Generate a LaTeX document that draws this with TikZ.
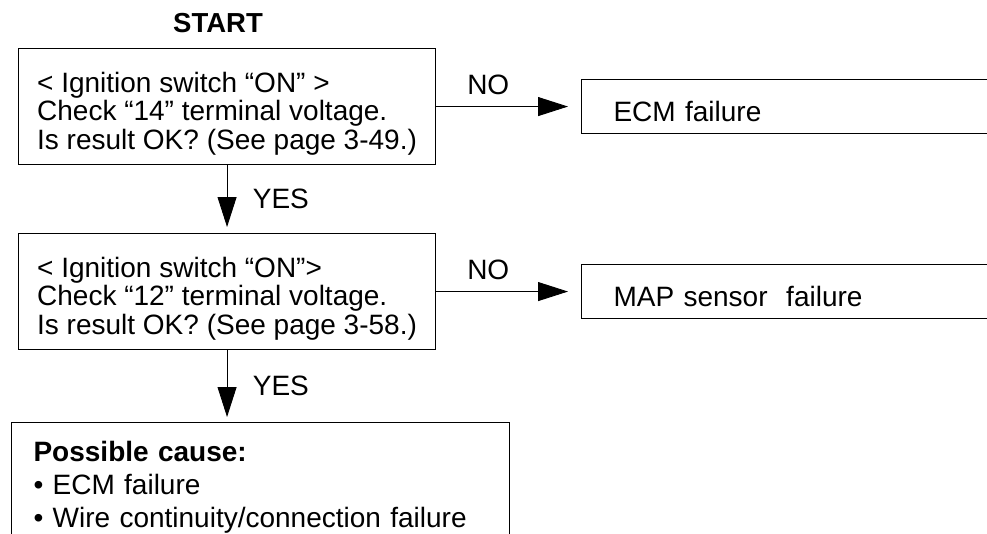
\documentclass[tikz,border=0pt]{standalone}
\usepackage{fontspec}
\setmainfont{Liberation Sans}
\usetikzlibrary{arrows.meta}
\newcommand{\topstrut}{\rule{0pt}{34pt}}

\begin{document}
\begin{tikzpicture}[x=1pt, y=-1pt,
    every node/.style={font=\fontsize{28}{28.5}\selectfont},
    checkbox/.style={draw, line width=1.1pt, align=left, minimum width=417pt, minimum height=116pt, inner ysep=9.5pt, anchor=north west},
    endbox/.style={draw, line width=1.1pt, align=left, text width=355pt, inner xsep=32pt, minimum height=54pt, text height=30pt, text depth=0pt, anchor=north west},
    flowarrow/.style={line width=0.9pt, -{Triangle[length=30pt, width=19pt]}}]
  \useasboundingbox (0,0) rectangle (987,533);
  \node[font=\bfseries\fontsize{27.5}{28.5}\selectfont] (start) at (218,23) {START};
  \node[checkbox] (check14) at (18,48) {\topstrut< Ignition switch “ON” >\\Check “14” terminal voltage.\\Is result OK? (See page 3-49.)};
  \node[checkbox] (check12) at (18,233) {\topstrut< Ignition switch “ON”>\\Check “12” terminal voltage.\\Is result OK? (See page 3-58.)};
  \node[endbox] (ecm) at (581,79) {ECM failure};
  \node[endbox] (map) at (581,264) {MAP sensor\ \ failure};
  \node[draw, line width=1.1pt, align=left, text width=454pt, inner xsep=22pt, inner ysep=19pt, anchor=north west,
        font=\fontsize{28}{33}\selectfont] (cause) at (11,422)
        {\textbf{Possible cause:}\\• ECM failure\\• Wire continuity/connection failure};
  \draw[flowarrow, shorten >=13pt] (check14.east) -- node[above=8pt, pos=0.36] (no1) {NO} (ecm.west);
  \draw[flowarrow, shorten >=13pt] (check12.east) -- node[above=8pt, pos=0.36] (no2) {NO} (map.west);
  \draw[flowarrow, shorten >=6pt] (check14.south) -- node[right=22pt] (yes1) {YES} (check14.south |- check12.north);
  \draw[flowarrow, shorten >=5pt] (check12.south) -- node[right=22pt] (yes2) {YES} (check12.south |- cause.north);
\end{tikzpicture}
\end{document}
